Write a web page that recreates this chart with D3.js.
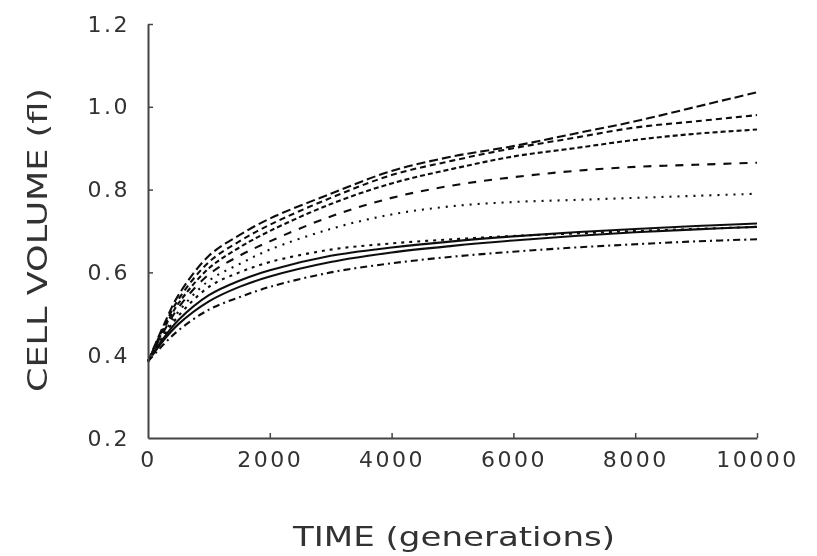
<!DOCTYPE html>
<html>
<head>
<meta charset="utf-8">
<script src="https://cdn.jsdelivr.net/npm/d3@7"></script>
<style>
  body { margin: 0; background: #fff; }
  svg { display: block; }
  text { font-family: 'DejaVu Sans', sans-serif; fill: #333; }
</style>
</head>
<body>
<div id="chart"></div>
<script>
const times = [0, 250, 500, 1000, 1500, 2000, 3000, 4000, 5000, 6000, 7000, 8000, 9000, 10000];

const seriesA = [0.385, 0.47, 0.545, 0.64, 0.69, 0.73, 0.79, 0.845, 0.88, 0.905, 0.935, 0.965, 1.0, 1.035];
const seriesB = [0.385, 0.465, 0.535, 0.625, 0.675, 0.715, 0.78, 0.835, 0.87, 0.9, 0.925, 0.95, 0.965, 0.98];
const seriesC = [0.385, 0.46, 0.525, 0.61, 0.66, 0.70, 0.765, 0.815, 0.85, 0.88, 0.9, 0.92, 0.935, 0.945];
const seriesD = [0.385, 0.455, 0.515, 0.595, 0.64, 0.675, 0.735, 0.78, 0.81, 0.83, 0.845, 0.855, 0.86, 0.865];
const seriesE = [0.385, 0.45, 0.505, 0.58, 0.62, 0.655, 0.705, 0.74, 0.76, 0.77, 0.775, 0.78, 0.785, 0.79];
const seriesF = [0.385, 0.445, 0.495, 0.565, 0.60, 0.625, 0.655, 0.67, 0.68, 0.688, 0.694, 0.70, 0.705, 0.71];
const seriesG = [0.385, 0.44, 0.485, 0.545, 0.58, 0.605, 0.64, 0.66, 0.675, 0.687, 0.697, 0.705, 0.712, 0.718];
const seriesH = [0.385, 0.435, 0.475, 0.53, 0.565, 0.59, 0.625, 0.648, 0.664, 0.677, 0.688, 0.697, 0.704, 0.71];
const seriesI = [0.385, 0.425, 0.46, 0.51, 0.54, 0.565, 0.6, 0.622, 0.638, 0.65, 0.66, 0.668, 0.675, 0.68];

const xTicks = [0, 2000, 4000, 6000, 8000, 10000];
const yTicks = [0.2, 0.4, 0.6, 0.8, 1.0, 1.2];

const lines = [
  { values: seriesA, dash: '9,4' },
  { values: seriesB, dash: '6,4' },
  { values: seriesC, dash: '5,3' },
  { values: seriesD, dash: '8,8' },
  { values: seriesE, dash: '2,6' },
  { values: seriesF, dash: '3,5' },
  { values: seriesG, dash: null },
  { values: seriesH, dash: null },
  { values: seriesI, dash: '7,4,2,4' }
];

const width = 817, height = 556;

const svg = d3.select('#chart')
  .append('svg')
  .attr('width', width)
  .attr('height', height);

// the scan is soft, so blur a little
svg.append('defs')
  .append('filter')
  .attr('id', 'soft')
  .append('feGaussianBlur')
  .attr('stdDeviation', 0.7);

const x = d3.scaleLinear().domain([0, 10000]).range([148, 757]);
const y = d3.scaleLinear().domain([0.2, 1.2]).range([438, 24]);

const line = d3.line()
  .x((d, i) => x(times[i]))
  .y(d => y(d))
  .curve(d3.curveCatmullRom.alpha(0.5));

const plot = svg.append('g').attr('filter', 'url(#soft)');

plot.selectAll('path.series')
  .data(lines)
  .enter()
  .append('path')
  .attr('class', 'series')
  .attr('d', d => line(d.values))
  .attr('fill', 'none')
  .attr('stroke', '#111')
  .attr('stroke-width', 2.1)
  .attr('stroke-dasharray', d => d.dash);

// axes, ticks point inward
const xAxis = d3.axisBottom(x)
  .tickValues(xTicks)
  .tickFormat(d3.format('d'))
  .tickSizeInner(-5)
  .tickSizeOuter(0)
  .tickPadding(13);

const yAxis = d3.axisLeft(y)
  .tickValues(yTicks)
  .tickFormat(d3.format('.1f'))
  .tickSizeInner(-5)
  .tickSizeOuter(0)
  .tickPadding(18);

const axes = svg.append('g').attr('filter', 'url(#soft)');

const gx = axes.append('g')
  .attr('transform', `translate(0,${y(0.2)})`)
  .call(xAxis);

const gy = axes.append('g')
  .attr('transform', `translate(${x(0)},0)`)
  .call(yAxis);

[gx, gy].forEach(g => {
  g.select('.domain').attr('stroke', '#444').attr('stroke-width', 2);
  g.selectAll('.tick line').attr('stroke', '#444').attr('stroke-width', 1.5);
  g.selectAll('.tick text')
    .attr('fill', '#2a2a2a')
    .style('font-family', "'DejaVu Sans', sans-serif")
    .style('font-size', '22px')
    .style('letter-spacing', '2.5px');
});
gy.select('.tick:first-of-type line').remove();
gx.select('.tick:first-of-type line').remove();

axes.append('text')
  .attr('x', 454)
  .attr('y', 546)
  .attr('text-anchor', 'middle')
  .attr('textLength', 322)
  .attr('lengthAdjust', 'spacingAndGlyphs')
  .style('font-size', '27px')
  .text('TIME (generations)');

axes.append('text')
  .attr('transform', 'translate(47,240) rotate(-90)')
  .attr('text-anchor', 'middle')
  .attr('textLength', 304)
  .attr('lengthAdjust', 'spacingAndGlyphs')
  .style('font-size', '27px')
  .text('CELL VOLUME (fl)');
</script>
</body>
</html>
